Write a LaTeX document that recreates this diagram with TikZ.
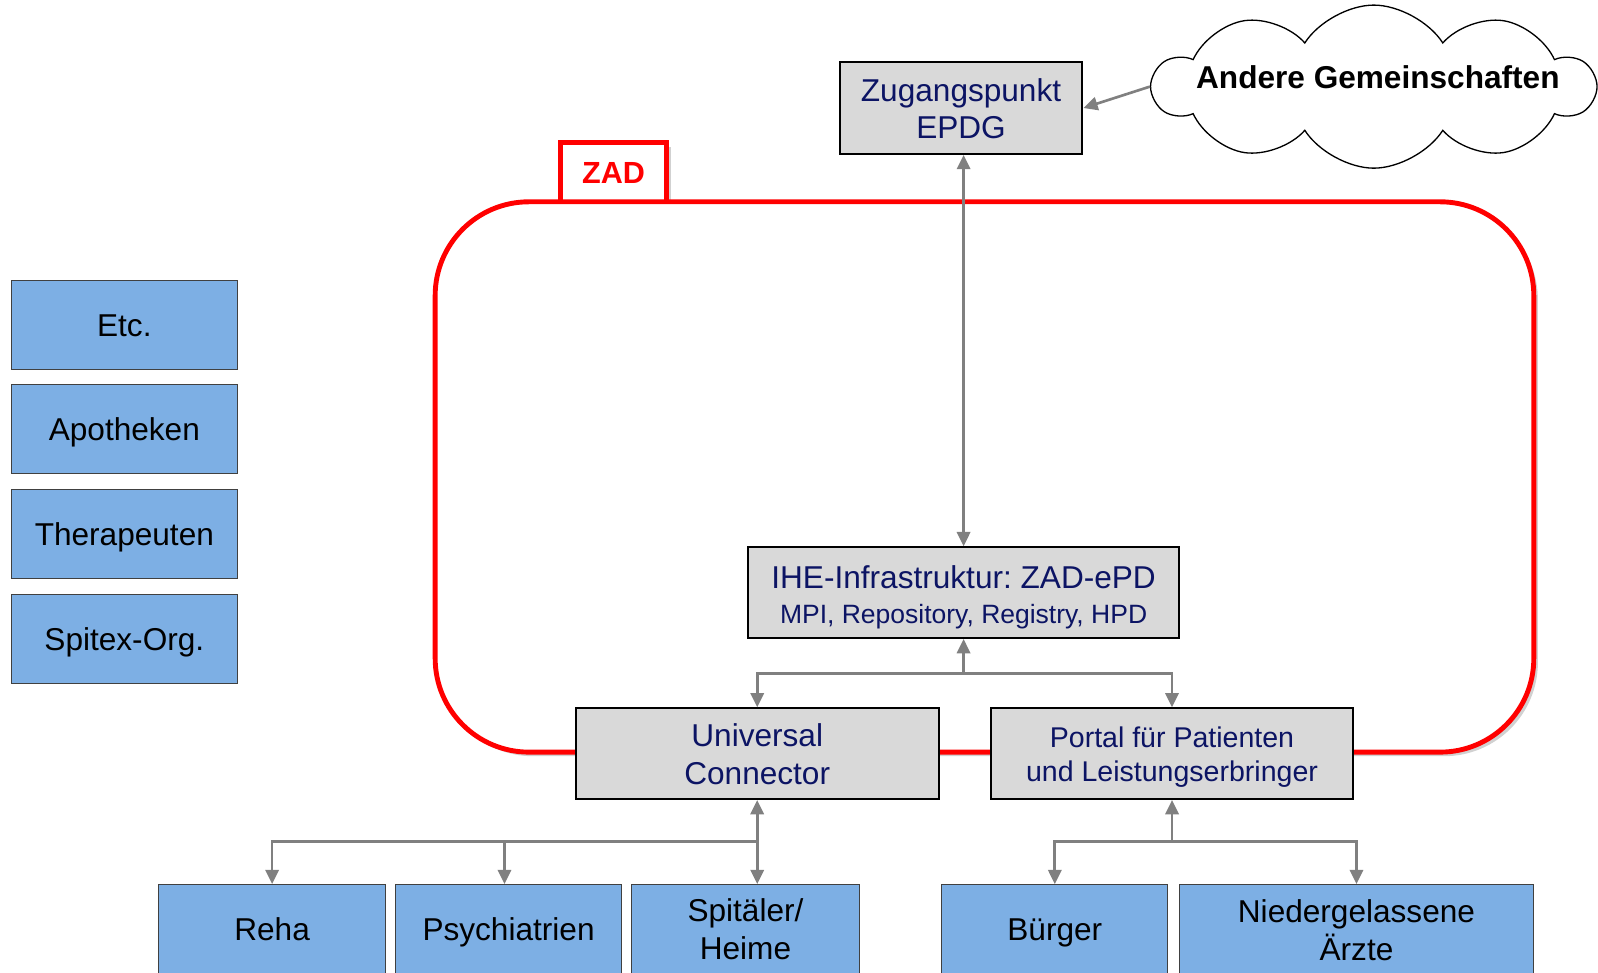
\documentclass[tikz,border=0pt]{standalone}
\usepackage{fontspec}
\setmainfont{Liberation Sans}
\frenchspacing
\usetikzlibrary{arrows.meta,shapes.symbols,shadows}
\definecolor{boxblue}{RGB}{125,175,228}
\definecolor{boxgray}{RGB}{217,217,217}
\definecolor{navy}{RGB}{12,20,100}
\definecolor{arrgray}{RGB}{128,128,128}
\begin{document}
\begin{tikzpicture}[x=1pt,y=-1pt,
  bluebox/.style={draw=black!75, line width=1pt, fill=boxblue, minimum width=222pt, minimum height=88pt, inner sep=0pt, font=\fontsize{31}{37}\selectfont, align=center, text=black},
  oneline/.style={text height=22.5pt, text depth=0pt},
  graybox/.style={draw=black, line width=2pt, fill=boxgray, minimum height=89pt, inner sep=0pt, align=center, text=navy, font=\fontsize{31}{37}\selectfont},
  conn/.style={draw=arrgray, line width=2.6pt, -{Triangle[length=14pt,width=13pt]}},
  conn2/.style={draw=arrgray, line width=2.6pt, {Triangle[length=14pt,width=13pt]}-{Triangle[length=14pt,width=13pt]}},
  softshadow/.style={drop shadow={shadow xshift=4pt, shadow yshift=-4pt, opacity=0.3, fill=black!60}}
]
\useasboundingbox (0,0) rectangle (1568,953.8);

% ZAD label and red frame
\node[draw=red, line width=4.5pt, fill=white, minimum width=104pt, minimum height=58pt, inner sep=0pt, text=red, font=\bfseries\fontsize{30}{36}\selectfont, text height=21.5pt, text depth=0pt, softshadow] (zad) at (602,169) {ZAD};
\draw[red, line width=4.8pt, rounded corners=92pt, fill=white, softshadow] (427,198) rectangle (1505,738);

% left column
\node[bluebox, oneline] (etc) at (122,319) {Etc.};
\node[bluebox, oneline] (apo) at (122,421) {Apotheken};
\node[bluebox, oneline] (ther) at (122,524) {Therapeuten};
\node[bluebox, oneline] (spx) at (122,627) {Spitex-Org.};

% gray boxes
\node[graybox, minimum width=238pt, minimum height=90pt] (zug) at (943,106) {\rule{0pt}{24pt}Zugangspunkt\\EPDG};
\node[graybox, minimum width=423pt] (ihe) at (945.5,581.5) {\rule{0pt}{31pt}IHE-Infrastruktur: ZAD-ePD\\[-3pt]{\fontsize{26}{30}\selectfont MPI, Repository, Registry, HPD}};
\node[graybox, minimum width=356pt] (uni) at (743,739.5) {\rule{0pt}{24pt}Universal\\Connector};
\node[graybox, minimum width=356pt, font=\fontsize{28}{34}\selectfont] (por) at (1150,739.5) {\rule{0pt}{27pt}Portal für Patienten\\und Leistungserbringer};

% bottom boxes
\node[bluebox, oneline] (reha) at (267,912) {Reha};
\node[bluebox, oneline] (psy) at (499,912) {Psychiatrien};
\node[bluebox, minimum width=223pt] (spi) at (731.5,912) {Spitäler/\\Heime};
\node[bluebox, oneline] (bue) at (1035,912) {Bürger};
\node[bluebox, minimum width=348pt] (arz) at (1331,912) {\rule{0pt}{24pt}Niedergelassene\\Ärzte};

% cloud
\node[cloud, cloud puffs=10, cloud puff arc=115, cloud ignores aspect, draw=black, line width=1.3pt, fill=white, minimum width=432pt, minimum height=160pt, inner sep=0pt] (cloud) at (1348,85) {};
\node[font=\bfseries\fontsize{31}{37}\selectfont, text=black] (andere) at (1352,76) {Andere Gemeinschaften};

% connectors
\draw[conn] (cloud.west) -- (zug.east);
\draw[conn2] (ihe.north) -- (ihe.north |- zug.south);

\coordinate (j1) at (945.5,661);
\draw[conn] (j1) -- (ihe.south);
\draw[conn] (j1) -| (uni.north);
\draw[conn] (j1) -| (por.north);

\coordinate (j2) at (743,826);
\draw[conn] (j2) -- (uni.south);
\draw[conn] (j2) -| (reha.north);
\draw[conn] (j2) -| ([xshift=-4pt]psy.north);
\draw[conn] (j2) -- (j2 |- spi.north);

\coordinate (j3) at (1150,826);
\draw[conn] (j3) -- (por.south);
\draw[conn] (j3) -| (bue.north);
\draw[conn] (j3) -| (arz.north);
\end{tikzpicture}
\end{document}
